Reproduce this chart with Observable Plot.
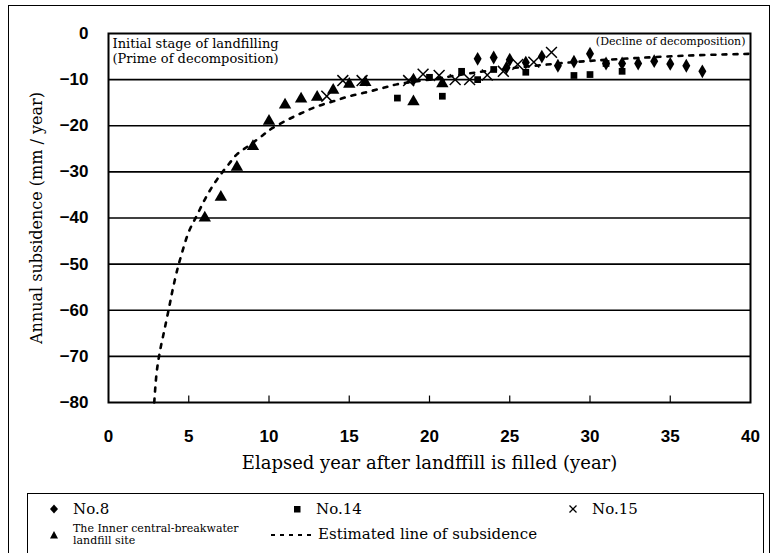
<!DOCTYPE html>
<html>
<head>
<meta charset="utf-8">
<script src="https://cdn.jsdelivr.net/npm/d3@7"></script>
<script src="https://cdn.jsdelivr.net/npm/@observablehq/plot@0.6"></script>
<style>
  html, body { margin: 0; padding: 0; background: #fff; }
  #wrap { position: relative; width: 772px; height: 553px; overflow: hidden; }
  #outer { position: absolute; left: 8px; top: 5px; width: 762px; height: 560px; border: 1px solid #000; box-sizing: border-box; }
  #chart { position: absolute; left: 0; top: 0; }
  #legend { position: absolute; left: 27px; top: 493px; width: 737px; height: 62px; border: 1.5px solid #000; box-sizing: border-box; font-family: "DejaVu Serif", serif; }
  .li { position: absolute; display: flex; align-items: center; }
  .li svg { overflow: visible; }
  .big { font-size: 15px; }
  .small { font-size: 11px; line-height: 12px; }
</style>
</head>
<body>
<div id="wrap">
  <div id="outer"></div>
  <div id="chart"></div>
  <div id="legend"></div>
</div>
<script>
// ---- data ----
const xTicks = [0, 5, 10, 15, 20, 25, 30, 35, 40];
const yTicks = [0, -10, -20, -30, -40, -50, -60, -70, -80];
const gridY = [-10, -20, -30, -40, -50, -60, -70];

// No.8 (diamonds)
const no8 = [[19,-10],[23,-5.5],[24,-5.2],[24.8,-7.4],[25,-5.7],[26,-6.3],[27,-5],[28,-7],[29,-6.1],[30,-4.4],[31,-6.5],[32,-6.5],[33,-6.5],[34,-6],[35,-6.6],[36,-7],[37,-8.2]];
// No.14 (squares)
const no14 = [[18,-14],[20,-9.5],[20.8,-13.6],[22,-8.2],[23,-10],[24,-7.8],[26,-8.4],[29,-9.1],[30,-8.9],[31,-6.5],[32,-8.2]];
// No.15 (crosses)
const no15 = [[13.6,-13.6],[14.6,-10.2],[15.8,-10.2],[18.7,-10.2],[19.6,-8.8],[20.6,-9.1],[21.6,-10],[22.5,-10],[23.6,-9],[24.6,-8.2],[25.5,-6.7],[26.5,-6.2],[27.6,-4.1]];
// The Inner central-breakwater landfill site (triangles)
const inner = [[6,-40],[7,-35.5],[8,-29],[9,-24.5],[10,-19],[11,-15.5],[12,-14.2],[13,-13.8],[14,-12.3],[15,-11],[16,-10.6],[19,-14.8],[20.8,-10.9]];
// Estimated line of subsidence
const estimated = [[2.85,-80],[3,-73.5],[3.2,-69],[3.5,-64],[3.8,-59],[4,-55.5],[4.3,-51],[4.5,-48.5],[5,-43],[5.5,-39.5],[6,-36],[6.5,-33],[7,-30.5],[7.5,-28.3],[8,-26.2],[8.75,-24.3],[9.6,-22.1],[10,-21],[11,-19],[12,-17.3],[13,-15.8],[14,-14.7],[15,-13.6],[16,-12.8],[17,-11.9],[18,-11],[20,-10],[23,-8.4],[26,-7.2],[29,-6.2],[32,-5.5],[36,-4.8],[40,-4.4]];

const serif = "DejaVu Serif, serif";
const sans = "Liberation Sans, Arial, sans-serif";

const chart = Plot.plot({
  width: 772,
  height: 485,
  marginLeft: 108,
  marginRight: 22,
  marginTop: 33,
  marginBottom: 83,
  x: { domain: [0, 40], ticks: xTicks },
  y: { domain: [-80, 0], ticks: yTicks },
  style: { background: "transparent", overflow: "visible" },
  marks: [
    Plot.ruleY(gridY, { stroke: "#000", strokeWidth: 1.6 }),
    Plot.ruleX(xTicks.slice(1, -1), { y1: -80, y2: -78.6, stroke: "#000", strokeWidth: 1.2 }),
    Plot.frame({ stroke: "#000", strokeWidth: 2 }),
    Plot.axisX({ ticks: xTicks, tickSize: 0, tickPadding: 27, fontSize: 17, fontWeight: "bold", fontFamily: sans, label: null, tickFormat: d => String(d) }),
    Plot.axisY({ ticks: yTicks, tickSize: 0, tickPadding: 20, fontSize: 17, fontWeight: "bold", fontFamily: sans, label: null, tickFormat: d => d < 0 ? "\u2212" + Math.abs(d) : String(d) }),
    Plot.text(["Elapsed year after landffill is filled (year)"], { frameAnchor: "bottom", dy: 66, text: d => d, fontSize: 18, fontFamily: serif, fill: "#000" }),
    Plot.text(["Annual subsidence (mm / year)"], { frameAnchor: "left", dx: -72, rotate: -90, textAnchor: "middle", text: d => d, fontSize: 16, fontFamily: serif, fill: "#000" }),
    Plot.text(["Initial stage of landfilling\n(Prime of decomposition)"], { frameAnchor: "top-left", dx: 4, dy: 3, text: d => d, fontSize: 13, lineHeight: 1.2, fontFamily: serif, textAnchor: "start", fill: "#000" }),
    Plot.text(["(Decline of decomposition)"], { frameAnchor: "top-right", dx: -5, dy: 4, text: d => d, fontSize: 11, fontFamily: serif, textAnchor: "end", fill: "#000" }),
    Plot.line(estimated, { x: d => d[0], y: d => d[1], curve: "catmull-rom", stroke: "#000", strokeWidth: 2.6, strokeDasharray: "4,7" }),
    Plot.dot(no8, { x: d => d[0], y: d => d[1], symbol: "diamond", r: 4.2, fill: "#000", stroke: "none" }),
    Plot.dot(no14, { x: d => d[0], y: d => d[1], symbol: "square", r: 3.8, fill: "#000", stroke: "none" }),
    Plot.dot(no15, { x: d => d[0], y: d => d[1], symbol: "times", r: 5, stroke: "#000", strokeWidth: 1.5 }),
    Plot.dot(inner, { x: d => d[0], y: d => d[1], symbol: "triangle", r: 4.6, fill: "#000", stroke: "none" })
  ]
});
document.getElementById("chart").appendChild(chart);

// ---- legend ----
const legend = document.getElementById("legend");
function item(left, top, svg, html, cls) {
  const d = document.createElement("div");
  d.className = "li";
  d.style.left = left + "px";
  d.style.top = top + "px";
  d.innerHTML = svg + `<span class="${cls}">${html}</span>`;
  legend.appendChild(d);
}
const sym = (inner, w = 14) => `<svg width="${w}" height="14" style="margin-right:12px">${inner}</svg>`;
item(19, 6, sym(`<path d="M7,2.5 L11,7 L7,11.5 L3,7Z" fill="#000"/>`), "No.8", "big");
item(262, 6, sym(`<rect x="4" y="4" width="6.5" height="6.5" fill="#000"/>`), "No.14", "big");
item(538, 6, sym(`<path d="M3.5,3.5 L10.5,10.5 M10.5,3.5 L3.5,10.5" stroke="#000" stroke-width="1.3"/>`), "No.15", "big");
item(19, 29, sym(`<path d="M7,3 L11,10.5 L3,10.5Z" fill="#000"/>`), "The Inner central-breakwater<br>landfill site", "small");
item(242, 31, `<svg width="42" height="14" style="margin-right:6px"><line x1="1" y1="8" x2="42" y2="8" stroke="#000" stroke-width="2" stroke-dasharray="4,5"/></svg>`, "Estimated line of subsidence", "big");
</script>
</body>
</html>
